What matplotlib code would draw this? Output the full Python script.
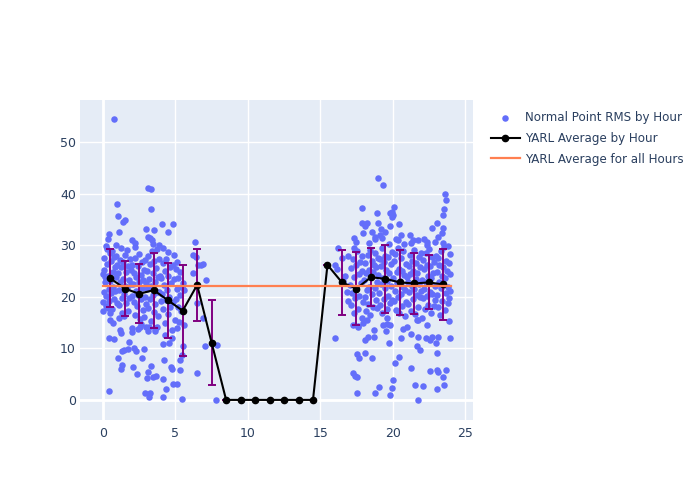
import matplotlib.pyplot as plt
import numpy as np

# hourly averages (black line) and their std (purple error bars)
hours = np.arange(24) + 0.5
avg_rms = [23.6, 21.6, 20.6, 21.3, 19.3, 17.3, 22.3, 11.1, 0, 0, 0, 0,
           0, 0, 0, 26.2, 22.8, 21.6, 23.8, 23.5, 22.8, 22.6, 22.8, 22.4]
std_rms = [5.65, 5.35, 5.75, 7.3, 7.3, 8.8, 6.9, 8.2, 0, 0, 0, 0,
           0, 0, 0, 0, 6.35, 7.1, 5.6, 6.6, 6.25, 6.0, 5.25, 6.9]
overall_avg = 22.1
overall_span = [0, 24]

# normal point rms values, (hour of day, rms)
morning_core = [
    (0.05, 27.5), (0.1, 25.2), (0.15, 22.8), (0.2, 20.1), (0.22, 18.3), (0.3, 26.4), (0.33, 24.0),
    (0.38, 21.5), (0.42, 19.2), (0.45, 28.6), (0.5, 23.1), (0.55, 26.9), (0.58, 20.7), (0.62, 17.6),
    (0.66, 24.8), (0.7, 22.0), (0.74, 27.8), (0.78, 19.6), (0.82, 25.7), (0.86, 21.2), (0.9, 23.9),
    (0.94, 18.8), (0.97, 26.2), (0.08, 20.9), (0.27, 29.3), (0.48, 16.9), (0.6, 28.9), (0.88, 28.0),
    (0.13, 23.8), (0.35, 17.8), (0.02, 19.0), (0.03, 24.5), (0.2, 29.8), (0.9, 30.1),
    (1.03, 24.6), (1.07, 21.3), (1.1, 18.4), (1.15, 27.2), (1.2, 22.9), (1.24, 25.8), (1.28, 19.7),
    (1.33, 16.8), (1.37, 23.5), (1.41, 26.7), (1.45, 20.6), (1.5, 22.1), (1.54, 28.1), (1.58, 18.9),
    (1.62, 24.9), (1.66, 21.7), (1.7, 26.0), (1.74, 17.3), (1.78, 23.2), (1.82, 19.8), (1.86, 27.4),
    (1.9, 22.5), (1.94, 25.3), (1.97, 20.2), (1.12, 15.8), (1.47, 16.2), (1.69, 29.0), (1.25, 29.4),
    (2.03, 26.1), (2.07, 22.4), (2.11, 19.0), (2.15, 24.7), (2.19, 16.5), (2.23, 27.6), (2.27, 21.1),
    (2.31, 23.8), (2.35, 18.2), (2.39, 25.9), (2.43, 20.3), (2.47, 28.4), (2.51, 22.9), (2.55, 15.7),
    (2.59, 24.2), (2.63, 19.6), (2.67, 26.8), (2.71, 21.8), (2.75, 17.4), (2.79, 23.3), (2.83, 25.2),
    (2.87, 20.0), (2.91, 27.1), (2.95, 18.7), (2.98, 22.6), (2.2, 29.6), (2.6, 14.8), (2.85, 16.1),
    (3.02, 25.0), (3.06, 21.6), (3.1, 17.9), (3.14, 27.9), (3.18, 23.4), (3.22, 19.5), (3.26, 26.3),
    (3.3, 15.4), (3.34, 22.2), (3.38, 28.8), (3.42, 20.4), (3.46, 24.6), (3.5, 17.0), (3.54, 26.9),
    (3.58, 22.8), (3.62, 18.6), (3.66, 25.6), (3.7, 21.0), (3.74, 29.2), (3.78, 23.9), (3.82, 16.3),
    (3.86, 20.9), (3.9, 27.3), (3.94, 24.1), (3.98, 19.1), (3.2, 14.1), (3.6, 13.8), (3.45, 30.2),
    (3.85, 30.0),
    (4.03, 23.7), (4.08, 20.5), (4.12, 26.6), (4.16, 17.7), (4.2, 22.3), (4.25, 25.1), (4.3, 14.9),
    (4.34, 19.4), (4.38, 27.4), (4.42, 21.4), (4.47, 24.0), (4.52, 16.6), (4.56, 20.0), (4.6, 25.8),
    (4.65, 18.1), (4.7, 22.7), (4.75, 13.5), (4.8, 26.1), (4.85, 19.0), (4.9, 23.5), (4.95, 15.6),
    (4.12, 29.4), (4.5, 28.7), (4.88, 28.2), (4.25, 12.5),
    (5.05, 25.4), (5.1, 21.6), (5.15, 18.0), (5.2, 23.7), (5.25, 15.2), (5.3, 20.4), (5.12, 26.8),
    (5.35, 24.9), (5.08, 13.9), (5.45, 21.9), (5.55, 22.6), (5.4, 17.2), (5.02, 19.5),
]
morning_spread = [
    (0.76, 54.5), (3.1, 41.2), (3.3, 40.9), (0.97, 38.1), (1.06, 35.7), (1.36, 34.6), (1.52, 34.9),
    (3.34, 37.1), (1.1, 32.5), (0.39, 32.2), (0.32, 31.2), (4.05, 34.2), (4.83, 34.1), (4.47, 32.5),
    (2.95, 33.2), (3.52, 33.0), (3.09, 31.7), (3.4, 31.0), (3.27, 31.4), (2.03, 31.0), (2.21, 30.4),
    (0.02, 17.3), (0.48, 15.5), (0.71, 14.9), (0.41, 12.0), (0.78, 11.8), (1.17, 13.6), (1.24, 12.9),
    (1.98, 13.1), (2.03, 13.9), (2.44, 13.7), (2.56, 14.2), (3.0, 14.2), (3.09, 13.3), (3.59, 13.3),
    (3.7, 14.2), (1.8, 11.3), (1.29, 9.5), (1.47, 9.6), (1.75, 9.8), (2.16, 10.0), (2.26, 9.4),
    (2.85, 9.9), (1.01, 8.1), (2.67, 8.2), (1.33, 6.8), (1.24, 6.0), (2.1, 6.3), (2.33, 5.0),
    (3.31, 6.5), (3.13, 5.5), (3.02, 4.2), (3.47, 4.5), (3.64, 4.7), (4.12, 4.1), (4.7, 6.3),
    (4.79, 6.0), (4.24, 7.8), (4.12, 10.9), (5.34, 5.8), (4.86, 3.0), (5.09, 3.0), (4.35, 2.1),
    (2.9, 1.4), (3.25, 1.4), (3.18, 0.6), (4.17, 0.6), (0.39, 1.8), (5.43, 0.2), (5.5, 10.5),
    (5.47, 8.7), (4.79, 12.0), (4.56, 11.0), (5.59, 21.3), (5.59, 14.6), (5.3, 7.8),
    (6.2, 28.1), (6.35, 30.7), (6.42, 27.8), (6.58, 26.2), (6.8, 26.2), (6.93, 26.3), (6.24, 24.7),
    (7.11, 23.3), (6.51, 18.8), (6.93, 15.9), (6.51, 5.2), (7.04, 10.5), (7.9, 10.7), (7.8, 0.0),
]
evening_core = [
    (16.25, 29.4), (16.02, 26.2), (16.18, 25.5), (16.5, 27.5), (16.7, 24.1), (16.85, 21.0),
    (16.9, 19.2), (16.6, 23.0), (16.95, 28.0),
    (17.05, 22.3), (17.1, 18.5), (17.15, 25.6), (17.2, 20.8), (17.25, 27.4), (17.3, 16.9),
    (17.35, 23.9), (17.4, 19.7), (17.45, 26.1), (17.5, 21.5), (17.55, 28.9), (17.6, 17.6),
    (17.65, 24.5), (17.7, 20.2), (17.75, 26.8), (17.8, 22.7), (17.85, 15.8), (17.9, 25.0),
    (17.95, 19.0), (17.3, 29.5), (17.6, 14.4), (17.85, 27.9),
    (18.03, 23.2), (18.07, 19.9), (18.11, 26.5), (18.15, 17.2), (18.19, 24.6), (18.23, 21.3),
    (18.27, 28.2), (18.31, 18.7), (18.35, 25.3), (18.39, 22.0), (18.43, 29.1), (18.47, 16.4),
    (18.51, 23.8), (18.55, 20.5), (18.59, 27.0), (18.63, 24.9), (18.67, 18.1), (18.71, 26.2),
    (18.75, 21.7), (18.79, 28.6), (18.83, 19.4), (18.87, 25.7), (18.91, 22.9), (18.95, 17.8),
    (18.98, 27.6), (18.4, 30.4), (18.8, 31.2), (18.2, 15.6),
    (19.02, 24.3), (19.06, 20.7), (19.1, 27.3), (19.14, 18.4), (19.18, 25.9), (19.22, 22.4),
    (19.26, 29.5), (19.3, 16.9), (19.34, 23.6), (19.38, 26.7), (19.42, 19.6), (19.46, 28.0),
    (19.5, 21.8), (19.54, 25.2), (19.58, 17.7), (19.62, 23.0), (19.66, 27.8), (19.7, 20.1),
    (19.74, 24.7), (19.78, 30.3), (19.82, 18.9), (19.86, 26.4), (19.9, 22.2), (19.94, 28.7),
    (19.98, 19.3), (19.3, 31.5), (19.6, 15.8), (19.1, 32.0),
    (20.03, 23.6), (20.07, 19.2), (20.11, 26.9), (20.15, 21.1), (20.19, 28.3), (20.23, 17.5),
    (20.27, 24.8), (20.31, 22.6), (20.35, 29.4), (20.39, 19.9), (20.43, 25.5), (20.47, 16.8),
    (20.51, 23.1), (20.55, 27.5), (20.59, 20.6), (20.63, 25.0), (20.67, 18.3), (20.71, 22.0),
    (20.75, 28.8), (20.79, 24.2), (20.83, 16.3), (20.87, 21.4), (20.91, 26.3), (20.95, 19.0),
    (20.98, 23.9), (20.4, 31.0), (20.8, 30.2),
    (21.03, 22.9), (21.07, 18.6), (21.11, 26.0), (21.15, 20.9), (21.19, 28.1), (21.23, 24.4),
    (21.27, 17.3), (21.31, 22.2), (21.35, 27.0), (21.39, 19.5), (21.43, 25.1), (21.47, 21.6),
    (21.51, 29.0), (21.55, 16.7), (21.59, 23.5), (21.63, 26.6), (21.67, 20.3), (21.71, 24.7),
    (21.75, 18.0), (21.79, 27.7), (21.83, 22.5), (21.87, 19.9), (21.91, 25.8), (21.95, 21.2),
    (21.98, 28.5), (21.3, 30.5), (21.7, 15.6),
    (22.03, 23.3), (22.07, 19.7), (22.11, 27.2), (22.15, 21.5), (22.19, 25.4), (22.23, 17.6),
    (22.27, 28.6), (22.31, 22.8), (22.35, 20.2), (22.39, 26.1), (22.43, 18.5), (22.47, 24.0),
    (22.51, 29.3), (22.55, 21.0), (22.59, 25.9), (22.63, 16.9), (22.67, 23.7), (22.71, 27.8),
    (22.75, 20.6), (22.79, 24.6), (22.83, 18.2), (22.87, 26.7), (22.91, 22.1), (22.95, 19.3),
    (22.98, 28.0), (22.4, 30.1), (22.2, 31.2),
    (23.03, 24.8), (23.07, 20.4), (23.11, 27.6), (23.15, 18.1), (23.19, 22.9), (23.23, 26.2),
    (23.27, 16.4), (23.31, 21.7), (23.35, 28.9), (23.39, 24.0), (23.43, 19.2), (23.47, 25.7),
    (23.51, 22.3), (23.55, 29.7), (23.59, 17.4), (23.63, 23.6), (23.67, 27.0), (23.71, 20.8),
    (23.75, 25.1), (23.79, 18.8), (23.83, 22.0), (23.87, 26.5), (23.91, 15.4), (23.95, 21.1),
    (23.98, 24.4), (23.9, 19.8), (23.97, 28.3), (23.5, 30.4), (23.85, 29.8), (23.96, 12.0),
]
evening_spread = [
    (16.02, 12.1), (18.97, 43.1), (19.36, 41.8), (23.62, 39.9), (23.67, 38.7), (23.57, 37.1),
    (23.5, 35.9), (17.87, 37.3), (20.12, 37.5), (19.94, 36.4), (20.05, 35.9), (19.82, 36.2),
    (19.94, 35.4), (18.9, 36.3), (20.47, 34.1), (17.91, 34.3), (18.2, 34.3), (18.09, 33.8),
    (18.97, 34.4), (19.82, 33.8), (23.04, 34.3), (22.74, 33.3), (23.5, 33.3), (23.39, 32.3),
    (23.11, 31.7), (22.93, 30.7), (17.33, 31.4), (17.47, 30.7), (17.98, 32.3), (21.2, 32.0),
    (21.43, 31.0), (21.78, 31.0), (22.35, 30.7), (18.6, 32.6), (18.75, 31.6), (19.2, 33.1),
    (19.5, 32.6), (20.6, 32.0), (20.2, 31.3),
    (17.24, 14.6), (17.63, 14.2), (17.98, 14.9), (18.09, 11.6), (18.32, 12.3), (18.72, 13.6),
    (18.72, 12.3), (19.31, 14.6), (19.59, 14.7), (19.82, 14.6), (19.52, 13.3), (19.75, 11.0),
    (20.74, 13.7), (20.97, 14.2), (20.58, 12.1), (21.25, 12.8), (21.78, 15.5), (22.01, 15.8),
    (22.35, 14.6), (21.73, 12.3), (21.71, 10.5), (21.89, 9.7), (22.31, 12.0), (22.59, 11.6),
    (22.7, 12.3), (22.99, 11.1), (23.16, 12.3), (23.04, 9.1), (17.52, 8.9), (17.7, 8.1),
    (18.09, 9.1), (18.6, 8.1), (17.24, 5.2), (17.4, 4.7), (17.52, 4.4), (20.17, 7.1),
    (20.46, 8.3), (21.27, 6.1), (22.58, 5.6), (23.04, 5.8), (23.16, 5.5), (23.67, 5.9),
    (23.5, 4.4), (23.57, 2.8), (20.05, 3.9), (19.94, 2.3), (21.55, 2.9), (22.08, 2.7),
    (23.09, 2.1), (19.08, 2.5), (18.78, 1.3), (17.56, 1.4), (19.82, 1.0), (21.73, 0.0),
]

pts = np.array(morning_core + morning_spread + evening_core + evening_spread)

text_col = '#2a3f5f'
fig = plt.figure(figsize=(7, 5), dpi=100)
ax = fig.add_axes([80 / 700, 80 / 500, 393 / 700, 320 / 500])
ax.set_facecolor('#E5ECF6')
for s in ax.spines.values():
    s.set_visible(False)

ax.scatter(pts[:, 0], pts[:, 1], s=22, color='#636EFA', linewidths=0,
           label='Normal Point RMS by Hour', zorder=2)
ax.errorbar(hours, avg_rms, yerr=std_rms, fmt='none', ecolor='purple',
            elinewidth=1.4, capsize=3, capthick=1.4, zorder=3)
ax.plot(hours, avg_rms, color='black', lw=1.5, marker='o', ms=4.5,
        label='YARL Average by Hour', zorder=3.5)
ax.plot(overall_span, [overall_avg, overall_avg], color='#FF7F50', lw=1.6,
        label='YARL Average for all Hours', zorder=4)

ax.set_xlim(-1.59, 25.55)
ax.set_ylim(-3.9, 58.2)
ax.set_xticks(np.arange(0, 26, 5))
ax.set_yticks(np.arange(0, 51, 10))
ax.grid(True, color='white', lw=1)
ax.axhline(0, color='white', lw=2, zorder=0.9)
ax.axvline(0, color='white', lw=2, zorder=0.9)
ax.set_axisbelow(True)
ax.tick_params(length=0, labelsize=9, labelcolor=text_col)
ax.tick_params(axis='y', pad=3)
ax.tick_params(axis='x', pad=5)

fig.legend(loc='upper left', bbox_to_anchor=(485 / 700, 1 - 105 / 500),
           frameon=False, fontsize=8.6, labelcolor=text_col, borderpad=0,
           handlelength=2.4, handletextpad=0.45, labelspacing=0.65)

fig.savefig('out.png')
